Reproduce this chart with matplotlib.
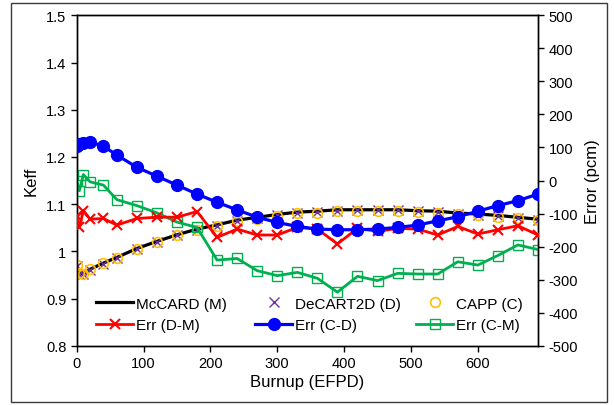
import matplotlib
matplotlib.use("Agg")
import matplotlib.pyplot as plt
from matplotlib.patches import Rectangle
from matplotlib.ticker import FuncFormatter

plt.rcParams['font.family'] = ['Liberation Sans', 'DejaVu Sans']
plt.rcParams['axes.unicode_minus'] = False

burnup = [0, 4, 10, 20, 40, 60, 90, 120, 150, 180, 210, 240, 270, 300, 330,
          360, 390, 420, 450, 480, 510, 540, 570, 600, 630, 660, 690]
keff_mccard = [0.971, 0.954, 0.952, 0.962, 0.975, 0.987, 1.006, 1.021, 1.035, 1.047,
               1.056, 1.066, 1.072, 1.078, 1.083, 1.085, 1.088, 1.088, 1.088, 1.088,
               1.086, 1.085, 1.081, 1.079, 1.076, 1.072, 1.068]
keff_decart = [0.9699, 0.9526, 0.9511, 0.9608, 0.9739, 0.9857, 1.0049, 1.0199, 1.0339,
               1.0461, 1.0543, 1.0645, 1.0703, 1.0764, 1.0816, 1.0835, 1.0861, 1.0866,
               1.0865, 1.0866, 1.0845, 1.0834, 1.0796, 1.0774, 1.0745, 1.0706, 1.0664]
keff_capp = [0.9710, 0.9537, 0.9522, 0.9620, 0.9749, 0.9864, 1.0052, 1.0200, 1.0337,
             1.0456, 1.0536, 1.0636, 1.0693, 1.0751, 1.0802, 1.0820, 1.0846, 1.0851,
             1.0850, 1.0852, 1.0832, 1.0822, 1.0785, 1.0764, 1.0737, 1.0700, 1.0659]
err_dm = [-107, -142, -91, -117, -115, -135, -115, -111, -111, -94, -172, -147, -165,
          -165, -142, -147, -192, -145, -154, -145, -147, -165, -139, -162, -149, -137, -165]
err_cd = [105, 110, 114, 116, 104, 77, 40, 13, -14, -41, -66, -89, -111, -127, -139,
          -147, -149, -149, -147, -142, -135, -122, -110, -93, -76, -61, -41]
err_cm = [-1, -31, 18, -4, -14, -58, -76, -98, -126, -142, -241, -236, -273, -288, -278,
          -296, -338, -290, -303, -281, -283, -283, -246, -256, -227, -195, -209]

labels_top = ["McCARD (M)", "DeCART2D (D)", "CAPP (C)"]
labels_err = ["Err (D-M)", "Err (C-D)", "Err (C-M)"]

fig = plt.figure(figsize=(6.14, 4.06), dpi=100)
ax = fig.add_axes([76.7/614, 1-346.7/406, (538-76.7)/614, (346.7-16.3)/406])
ax2 = ax.twinx()

# outer border
fig.patches.append(Rectangle((11/614, 1-403/406), (607-11)/614, (403-4)/406,
                             transform=fig.transFigure, fill=False,
                             edgecolor='#3a3a3a', linewidth=1.0))

BLACK = '#000000'; PURPLE = '#7030A0'; ORANGE = '#FFC000'
RED = '#FF0000'; BLUE = '#0000FF'; GREEN = '#00B050'

h_m, = ax.plot(burnup, keff_mccard, color=BLACK, lw=2.3, zorder=2)
h_d, = ax.plot(burnup, keff_decart, ls='none', marker='x', color=PURPLE, ms=7, mew=1.0, zorder=3)
h_c, = ax.plot(burnup, keff_capp, ls='none', marker='o', mfc='none', mec=ORANGE, ms=7, mew=1.2, zorder=4)

h_dm, = ax2.plot(burnup, err_dm, color=RED, lw=2.0, marker='x', ms=7.5, mew=1.5, zorder=3)
h_cd, = ax2.plot(burnup, err_cd, color=BLUE, lw=2.3, marker='o', ms=8.5, zorder=4)
h_cm, = ax2.plot(burnup, err_cm, color=GREEN, lw=2.0, marker='s', mfc='none', mec=GREEN,
                 ms=7, mew=1.0, zorder=2)

ax.set_xlim(0, 690)
ax.set_ylim(0.8, 1.5)
ax2.set_ylim(-500, 500)
ax.set_xticks([0, 100, 200, 300, 400, 500, 600])
ax.set_yticks([0.8, 0.9, 1.0, 1.1, 1.2, 1.3, 1.4, 1.5])
ax2.set_yticks(list(range(-500, 501, 100)))
ax.yaxis.set_major_formatter(FuncFormatter(lambda v, p: ('%g' % round(v, 2))))

for a in (ax, ax2):
    a.tick_params(direction='out', length=4, width=1, labelsize=10.5, colors='black')
    for s in a.spines.values():
        s.set_linewidth(1.0)
        s.set_color('black')

ax.set_xlabel("Burnup (EFPD)", fontsize=12, labelpad=3)
ax.set_ylabel("Keff", fontsize=12, labelpad=5)
ax2.set_ylabel("Error (pcm)", fontsize=12, labelpad=5)

cols = [([h_m, h_dm], [labels_top[0], labels_err[0]], 96),
        ([h_d, h_cd], [labels_top[1], labels_err[1]], 255),
        ([h_c, h_cm], [labels_top[2], labels_err[2]], 416)]
for handles, labs, xpix in cols:
    fig.legend(handles, labs, loc='center left',
               bbox_to_anchor=(xpix/614, 1-315.5/406), frameon=False,
               fontsize=11, handlelength=2.45, handletextpad=0.2,
               labelspacing=0.5, borderpad=0, borderaxespad=0, numpoints=1)

fig.savefig("out.png", dpi=100)
